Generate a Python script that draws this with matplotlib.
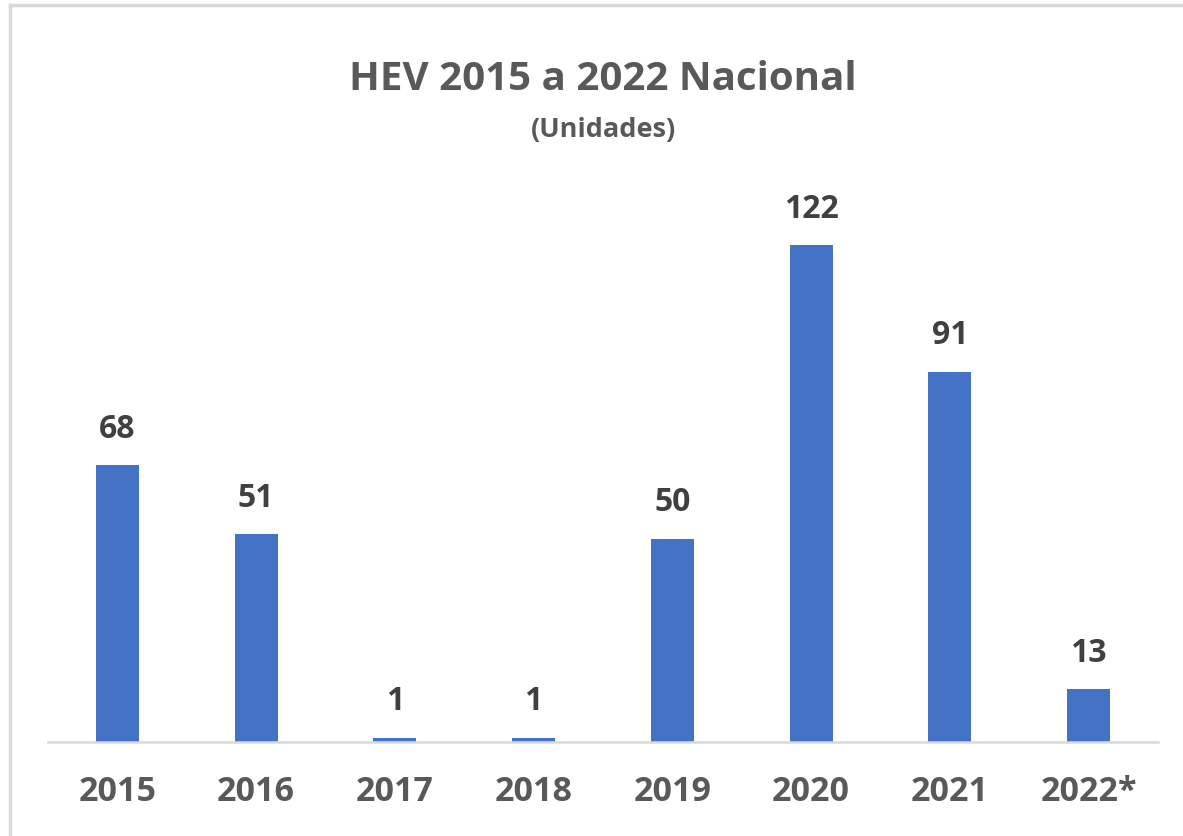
import matplotlib
matplotlib.use('Agg')
import matplotlib.pyplot as plt
from matplotlib.lines import Line2D

# Dati
anni = ["2015", "2016", "2017", "2018", "2019", "2020", "2021", "2022*"]
unidades = [68, 51, 1, 1, 50, 122, 91, 13]

titulo = "HEV 2015 a 2022 Nacional"
subtitulo = "(Unidades)"

azul = "#4472C4"
gris_texto = "#595959"
gris_etiqueta = "#404040"
gris_linea = "#D9D9D9"

plt.rcParams['font.family'] = ['Open Sans', 'DejaVu Sans']

W, H = 1183, 836
fig = plt.figure(figsize=(W / 100, H / 100), dpi=100)

# Ejes: izquierda 48px, derecha 1158px, base en y=742px, ymax 140 -> 4.07 px/unidad
ymax = 140
ax_top_px = 742 - ymax * 4.07
ax = fig.add_axes([48 / W, (H - 742) / H, (1158 - 48) / W, (742 - ax_top_px) / H])

x = range(len(anni))
ax.bar(x, unidades, width=0.31, color=azul, zorder=2)
ax.set_xlim(-0.5, len(anni) - 0.5)
ax.set_ylim(0, ymax)

for xi, v in zip(x, unidades):
    ax.annotate(str(v), (xi, v), xytext=(0, 14), textcoords='offset points',
                ha='center', va='bottom', fontsize=23, fontweight='bold',
                color=gris_etiqueta)

ax.set_xticks(list(x))
ax.set_xticklabels(anni, fontsize=24.5, fontweight='bold', color=gris_texto)
ax.tick_params(axis='x', length=0, pad=24)
ax.set_yticks([])

for s in ['top', 'right', 'left']:
    ax.spines[s].set_visible(False)
ax.spines['bottom'].set_color(gris_linea)
ax.spines['bottom'].set_linewidth(1.8)
ax.spines['bottom'].set_zorder(3)

fig.text(603 / W, 1 - 80 / H, titulo, ha='center', va='center',
         fontsize=29, fontweight='bold', color=gris_texto)
fig.text(604 / W, 1 - 130 / H, subtitulo, ha='center', va='center',
         fontsize=19.5, fontweight='bold', color=gris_texto)

# Borde del gráfico (solo arriba e izquierda visibles)
fig.add_artist(Line2D([10 / W, 10 / W], [0, 1 - 5 / H], transform=fig.transFigure,
                      color=gris_linea, linewidth=2.5))
fig.add_artist(Line2D([10 / W, 1], [1 - 5 / H, 1 - 5 / H], transform=fig.transFigure,
                      color=gris_linea, linewidth=2.5))

fig.savefig("out.png", dpi=100)
plt.close(fig)
